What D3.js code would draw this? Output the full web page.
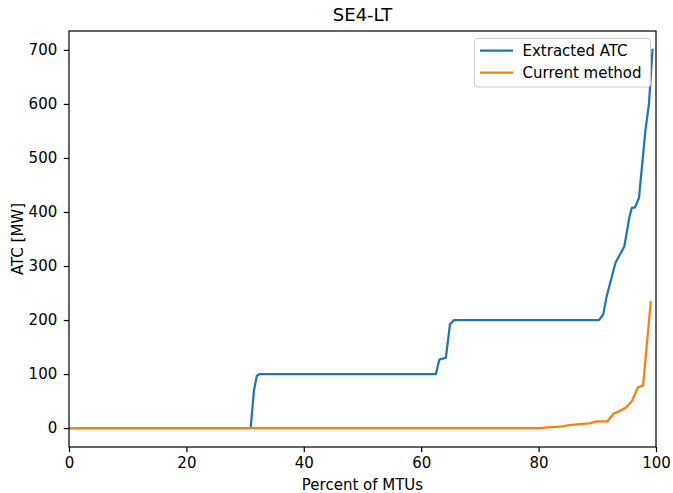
<!DOCTYPE html>
<html><head><meta charset="utf-8">
<script src="https://cdn.jsdelivr.net/npm/d3@7"></script>
<style>body{margin:0;background:#fff}svg{display:block;font-family:"DejaVu Sans",sans-serif}</style>
</head><body><svg id="c" width="673" height="493"></svg>
<script>
const title = "SE4-LT";
const xLabel = "Percent of MTUs";
const yLabel = "ATC [MW]";
const xTicks = [0, 20, 40, 60, 80, 100];
const yTicks = [0, 100, 200, 300, 400, 500, 600, 700];
const seriesNames = ["Extracted ATC", "Current method"];
const colors = ["#1f77b4", "#ff7f0e"];
const extractedX = [0, 30.95, 31.5, 32.0, 32.5, 62.5, 63.1, 64.2, 64.9, 65.6, 90.3, 91.0, 91.6, 93.1, 93.7, 94.6, 95.5, 95.9, 96.4, 97.1, 98.2, 98.8, 99.4];
const extractedY = [0, 0, 69, 97, 100, 100, 127, 130, 192, 200, 200, 210, 244, 306, 318, 336, 392, 408, 408, 426, 551, 600, 700];
const currentX = [0, 80.2, 81.5, 83.6, 85.3, 87.0, 88.7, 89.9, 91.7, 92.8, 93.7, 94.9, 95.9, 96.9, 97.8, 99.1];
const currentY = [0, 0, 1.5, 2.5, 5.5, 7.5, 8.6, 12.3, 12.3, 27, 31, 38, 50, 75, 79, 233];

const svg = d3.select("#c");
const m = {l: 69, r: 656, t: 31, b: 447};
const x = d3.scaleLinear().domain([0, 100]).range([m.l, m.r]);
const y = d3.scaleLinear().domain([-35, 735]).range([m.b, m.t]);
const fs = 15;

const gx = svg.append("g").attr("transform", `translate(0,${m.b})`)
  .call(d3.axisBottom(x).tickValues(xTicks).tickSize(5.25).tickPadding(5.5).tickFormat(d3.format("d")));
const gy = svg.append("g").attr("transform", `translate(${m.l},0)`)
  .call(d3.axisLeft(y).tickValues(yTicks).tickSize(5.25).tickPadding(6.5).tickFormat(d3.format("d")));
[gx, gy].forEach(g => {
  g.select(".domain").remove();
  g.selectAll("text").attr("font-size", fs).attr("fill", "#000").attr("font-family", "DejaVu Sans");
  g.selectAll("line").attr("stroke", "#000").attr("stroke-width", 1.2);
});

const line = d3.line().x(d => x(d[0])).y(d => y(d[1]));
const data = [d3.zip(extractedX, extractedY), d3.zip(currentX, currentY)];
svg.append("clipPath").attr("id", "clp").append("rect")
  .attr("x", m.l).attr("y", m.t).attr("width", m.r - m.l).attr("height", m.b - m.t);
data.forEach((d, i) => {
  svg.append("path").datum(d).attr("d", line).attr("fill", "none")
    .attr("stroke", colors[i]).attr("stroke-width", 2.25).attr("stroke-linejoin", "round")
    .attr("stroke-linecap", "square").attr("clip-path", "url(#clp)");
});

svg.append("rect").attr("x", m.l).attr("y", m.t).attr("width", m.r - m.l).attr("height", m.b - m.t)
  .attr("fill", "none").attr("stroke", "#000").attr("stroke-width", 1.2);

svg.append("text").attr("x", (m.l + m.r) / 2).attr("y", 21).attr("text-anchor", "middle")
  .attr("font-size", 18).text(title);
svg.append("text").attr("x", (m.l + m.r) / 2).attr("y", 490).attr("text-anchor", "middle")
  .attr("font-size", fs).text(xLabel);
svg.append("text").attr("transform", `translate(22.5,${(m.t + m.b) / 2}) rotate(-90)`)
  .attr("text-anchor", "middle").attr("font-size", fs).text(yLabel);

const lg = svg.append("g");
lg.append("rect").attr("x", 474.5).attr("y", 38.5).attr("width", 176).attr("height", 48.5).attr("rx", 3)
  .attr("fill", "#fff").attr("fill-opacity", 0.8).attr("stroke", "#ccc").attr("stroke-width", 1);
seriesNames.forEach((n, i) => {
  const yy = 50.7 + i * 22;
  lg.append("line").attr("x1", 480).attr("x2", 513).attr("y1", yy).attr("y2", yy)
    .attr("stroke", colors[i]).attr("stroke-width", 2.25);
  lg.append("text").attr("x", 522.5).attr("y", yy + 5.3).attr("font-size", fs).text(n);
});
</script></body></html>
